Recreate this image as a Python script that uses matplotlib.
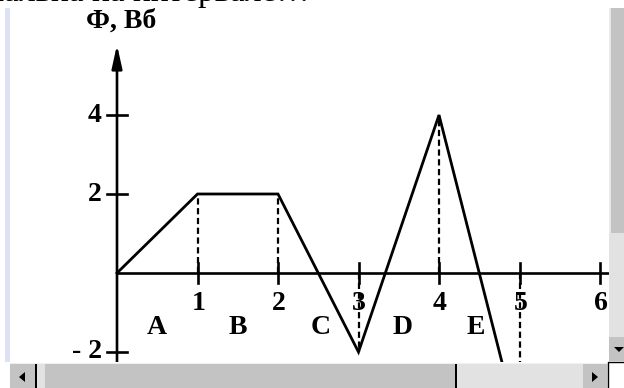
import matplotlib
matplotlib.use('Agg')
import matplotlib.pyplot as plt
from matplotlib.patches import Rectangle, Polygon

# magnetic flux vs time
t = [0, 1, 2, 3, 4, 5]
phi = [0, 2, 2, -2, 4, -4]
x_ticks = [1, 2, 3, 4, 5, 6]
y_ticks = [4, 2, -2]
y_tick_labels = ['4', '2', '- 2']
segments = ['A', 'B', 'C', 'D', 'E']
segment_x = [0.5, 1.5, 2.53, 3.55, 4.46]
dash_x = [1, 2, 3, 4, 5]
dash_to = [2, 2, -2, 4, -4]

W, H = 624, 388
fig = plt.figure(figsize=(W / 100, H / 100), dpi=100)
ax = fig.add_axes([0, 0, 1, 1])
x0, sx = 117, 80.5
y0, sy = 273, 39.5
ax.set_xlim(-x0 / sx, (W - x0) / sx)
ax.set_ylim((y0 - H) / sy, y0 / sy)
ax.axis('off')

serif = 'Liberation Serif'
fs = 20

# dashed drop lines
for x, y in zip(dash_x, dash_to):
    ax.plot([x, x], [0, y], color='black', lw=1.6, ls=(0, (2.8, 1.6)))

# axes
ax.plot([0, 6.4], [0, 0], color='black', lw=1.9)
ax.annotate('', xy=(0, 5.78), xytext=(0, -2.6),
            arrowprops=dict(arrowstyle='-|>,head_length=1.0,head_width=0.22',
                            lw=1.9, color='black', mutation_scale=14,
                            shrinkA=0, shrinkB=0))

# ticks
for x in x_ticks:
    ax.plot([x, x], [-10 / sy, 10 / sy], color='black', lw=1.9)
    ax.text(x + 0.01, -0.78, str(x), ha='center', va='center',
            fontsize=fs, family=serif, fontweight='bold')
for y, lab in zip(y_ticks, y_tick_labels):
    ax.plot([-10 / sx, 10 / sx], [y, y], color='black', lw=1.9)
    ax.text(-0.19, y, lab, ha='right', va='center',
            fontsize=fs, family=serif, fontweight='bold')

# curve
ax.plot(t, phi, color='black', lw=2.0, solid_joinstyle='miter')

for s, x in zip(segments, segment_x):
    ax.text(x, -1.37, s, ha='center', va='center',
            fontsize=fs, family=serif, fontweight='bold')

ax.text(0.05, 6.37, 'Ф, Вб', ha='center', va='center',
        fontsize=fs, family=serif, fontweight='bold')

# browser chrome on top
ov = fig.add_axes([0, 0, 1, 1])
ov.set_xlim(0, W)
ov.set_ylim(H, 0)
ov.axis('off')
ov.patch.set_alpha(0)

ov.text(310, 1, 'ЭДС индукции максимальна на интервале…', ha='right',
        va='baseline', fontsize=24, family=serif)

ov.add_patch(Rectangle((5, 8), 5, 354, fc='#dde1f3', ec='none'))

gray = '#c3c3c3'
dots = '#e2e2e2'
# vertical scrollbar
ov.add_patch(Rectangle((609, 8), 15, 225, fc=gray, ec='none'))
ov.add_patch(Rectangle((609, 8), 1.5, 225, fc='#e8e8e8', ec='none'))
ov.add_patch(Rectangle((609, 233), 15, 104, fc=dots, ec='none'))
ov.add_patch(Rectangle((609, 337), 15, 24, fc=gray, ec='none'))
ov.add_patch(Polygon([(614, 347), (624, 347), (619, 352)], fc='black', ec='none'))

# horizontal scrollbar
ov.add_patch(Rectangle((0, 362), 624, 26, fc='white', ec='none'))
ov.add_patch(Rectangle((10, 363), 598, 25, fc=dots, ec='none'))
ov.add_patch(Rectangle((10, 363), 25, 25, fc=gray, ec='none'))
ov.add_patch(Polygon([(25, 372), (25, 382), (19, 377)], fc='black', ec='none'))
ov.add_patch(Rectangle((35, 363), 2, 25, fc='black', ec='none'))
ov.add_patch(Rectangle((45, 363), 410, 25, fc=gray, ec='none'))
ov.add_patch(Rectangle((455, 363), 2, 25, fc='black', ec='none'))
ov.add_patch(Rectangle((583, 363), 24, 25, fc=gray, ec='none'))
ov.add_patch(Polygon([(592, 372), (592, 382), (598, 377)], fc='black', ec='none'))
ov.add_patch(Rectangle((10, 363), 598, 1.2, fc='#f0f0f0', ec='none'))

# corner
ov.add_patch(Rectangle((608, 362), 16, 26, fc='white', ec='none'))
ov.plot([608, 608, 624], [388, 362, 362], color='black', lw=1)

fig.savefig('out.png', dpi=100)
